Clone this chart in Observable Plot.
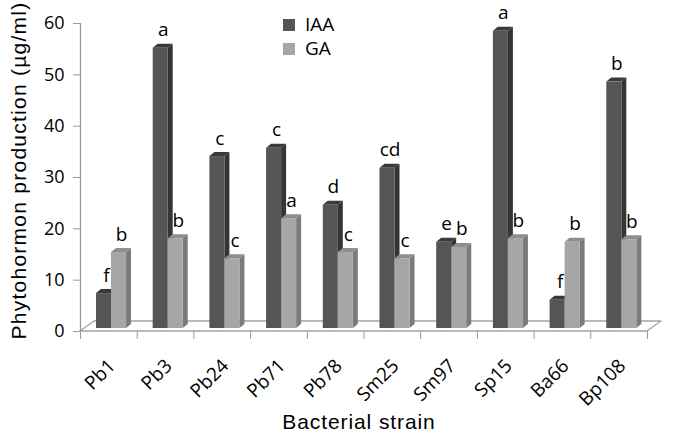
<!DOCTYPE html>
<html>
<head>
<meta charset="utf-8">
<script src="https://cdn.jsdelivr.net/npm/d3@7"></script>
<script src="https://cdn.jsdelivr.net/npm/@observablehq/plot@0.6"></script>
<style>
  html, body { margin: 0; padding: 0; background: #fff; }
  #wrap { position: relative; width: 673px; height: 441px; }
  .leg { position: absolute; left: 283px; font-family: "Open Sans", sans-serif; font-size: 19px; color: #000; line-height: 1; }
  .leg span.sw { position: absolute; left: 0; width: 12px; height: 12px; }
  .leg span.lb { position: absolute; left: 22px; white-space: nowrap; }
</style>
</head>
<body>
<div id="wrap"></div>
<script>
// ---- data ----
const strains = ["Pb1", "Pb3", "Pb24", "Pb71", "Pb78", "Sm25", "Sm97", "Sp15", "Ba66", "Bp108"];
const iaa = [6.8, 54.6, 33.5, 35.1, 24.0, 31.2, 16.8, 57.9, 5.5, 48.0];
const ga  = [14.8, 17.5, 13.6, 21.4, 14.8, 13.6, 15.8, 17.5, 16.8, 17.3];
const iaaLetters = ["f", "a", "c", "c", "d", "cd", "e", "a", "f", "b"];
const gaLetters  = ["b", "b", "c", "a", "c", "c", "b", "b", "b", "b"];
const seriesNames = ["IAA", "GA"];
const yTicks = [0, 10, 20, 30, 40, 50, 60];
const yTitle = "Phytohormon production (µg/ml)";
const xTitle = "Bacterial strain";

// ---- styling / 3D geometry (in scale units) ----
const colors = {
  IAA: {front: "#555555", side: "#353535", top: "#3a3a3a"},
  GA:  {front: "#a6a6a6", side: "#7b7b7b", top: "#8e8e8e"}
};
const barOff = 0.282, barW = 0.265;   // category fraction
const base = 0.58;                    // bar base lift (depth position)
const dX = 0.088, dY = 0.78;          // bar depth offset
const fX = 0.247, fY = 1.95;          // floor depth offset

const bars = [];
strains.forEach((s, i) => {
  [iaa[i], ga[i]].forEach((v, k) => {
    const name = seriesNames[k];
    const x1 = i + barOff + k * barW;
    bars.push({id: s + name, strain: s, series: name, x1, x2: x1 + barW,
      lo: base, top: v + base, letter: (k === 0 ? iaaLetters : gaLetters)[i], c: colors[name]});
  });
});

const sidePts = bars.flatMap(b => [
  {id: b.id, x: b.x2, y1: b.lo, y2: b.top, fill: b.c.side},
  {id: b.id, x: b.x2 + dX, y1: b.lo + dY, y2: b.top + dY, fill: b.c.side}
]);
const topPts = bars.flatMap(b => [
  {id: b.id, x: b.x1, y1: b.top, y2: b.top, fill: b.c.top},
  {id: b.id, x: b.x1 + dX, y1: b.top, y2: b.top + dY, fill: b.c.top},
  {id: b.id, x: b.x2, y1: b.top, y2: b.top + dY, fill: b.c.top},
  {id: b.id, x: b.x2 + dX, y1: b.top + dY, y2: b.top + dY, fill: b.c.top}
]);
const n = strains.length;
const floorPts = [
  {x: 0, y1: 0, y2: 0},
  {x: fX, y1: 0, y2: fY},
  {x: n, y1: 0, y2: fY},
  {x: n + fX, y1: fY, y2: fY}
];
const boundaries = d3.range(n + 1);
const titleFont = "'Liberation Sans', Arial, sans-serif";

const chart = Plot.plot({
  width: 673,
  height: 441,
  marginLeft: 80,
  marginRight: 26,
  marginTop: 23,
  marginBottom: 110,
  style: {fontFamily: "'Open Sans', sans-serif", fontSize: "17px", color: "#000", background: "#fff"},
  x: {type: "linear", domain: [0, n], axis: null},
  y: {domain: [0, 60], axis: null},
  color: {type: "identity"},
  marks: [
    Plot.areaY(floorPts, {x: "x", y1: "y1", y2: "y2", fill: "#fff", stroke: "#a3a3a3", strokeWidth: 1.3}),
    Plot.ruleX([0], {y1: 0, y2: 60, stroke: "#9a9a9a", strokeWidth: 1.3}),
    Plot.axisY({ticks: yTicks, tickSize: 7, tickPadding: 9, stroke: "#9a9a9a", fill: "#000", fontSize: 18, label: null}),
    Plot.axisX({ticks: boundaries, tickSize: 8, tickFormat: () => "", stroke: "#9a9a9a", label: null}),
    Plot.areaY(sidePts, {x: "x", y1: "y1", y2: "y2", z: "id", fill: "fill"}),
    Plot.areaY(topPts, {x: "x", y1: "y1", y2: "y2", z: "id", fill: "fill"}),
    Plot.rect(bars, {x1: "x1", x2: "x2", y1: "lo", y2: "top", fill: d => d.c.front}),
    Plot.text(bars, {x: d => (d.x1 + d.x2) / 2 + dX / 2, y: d => d.top + dY, text: "letter",
      lineAnchor: "bottom", dy: -8, fontSize: 19, fill: "#000"}),
    Plot.text(strains, {x: (d, i) => i + 0.5, y: 0, text: d => d, rotate: -45, textAnchor: "end",
      lineAnchor: "top", dx: -2, dy: 26, fontSize: 19, fill: "#000"}),
    Plot.text([yTitle], {frameAnchor: "left", rotate: -90, textAnchor: "middle", dx: -61, dy: -7,
      fontSize: 21, fontFamily: titleFont, fill: "#000"}),
    Plot.text([xTitle], {frameAnchor: "bottom", textAnchor: "middle", dy: 97, dx: -5,
      fontSize: 21, fontFamily: titleFont, fill: "#000"})
  ]
});

const wrap = document.getElementById("wrap");
wrap.appendChild(chart);
// widen title letter spacing as in the reference
d3.select(chart).selectAll("text")
  .filter(function() { return this.textContent === yTitle; })
  .style("letter-spacing", "1.25px");
d3.select(chart).selectAll("text")
  .filter(function() { return this.textContent === xTitle; })
  .style("letter-spacing", "0.9px");

// legend
const legY = [19, 43];
seriesNames.forEach((name, k) => {
  const d = document.createElement("div");
  d.className = "leg";
  d.style.top = legY[k] + "px";
  d.innerHTML = `<span class="sw" style="background:${colors[name].front}"></span><span class="lb" style="top:-4px">${name}</span>`;
  wrap.appendChild(d);
});
</script>
</body>
</html>
